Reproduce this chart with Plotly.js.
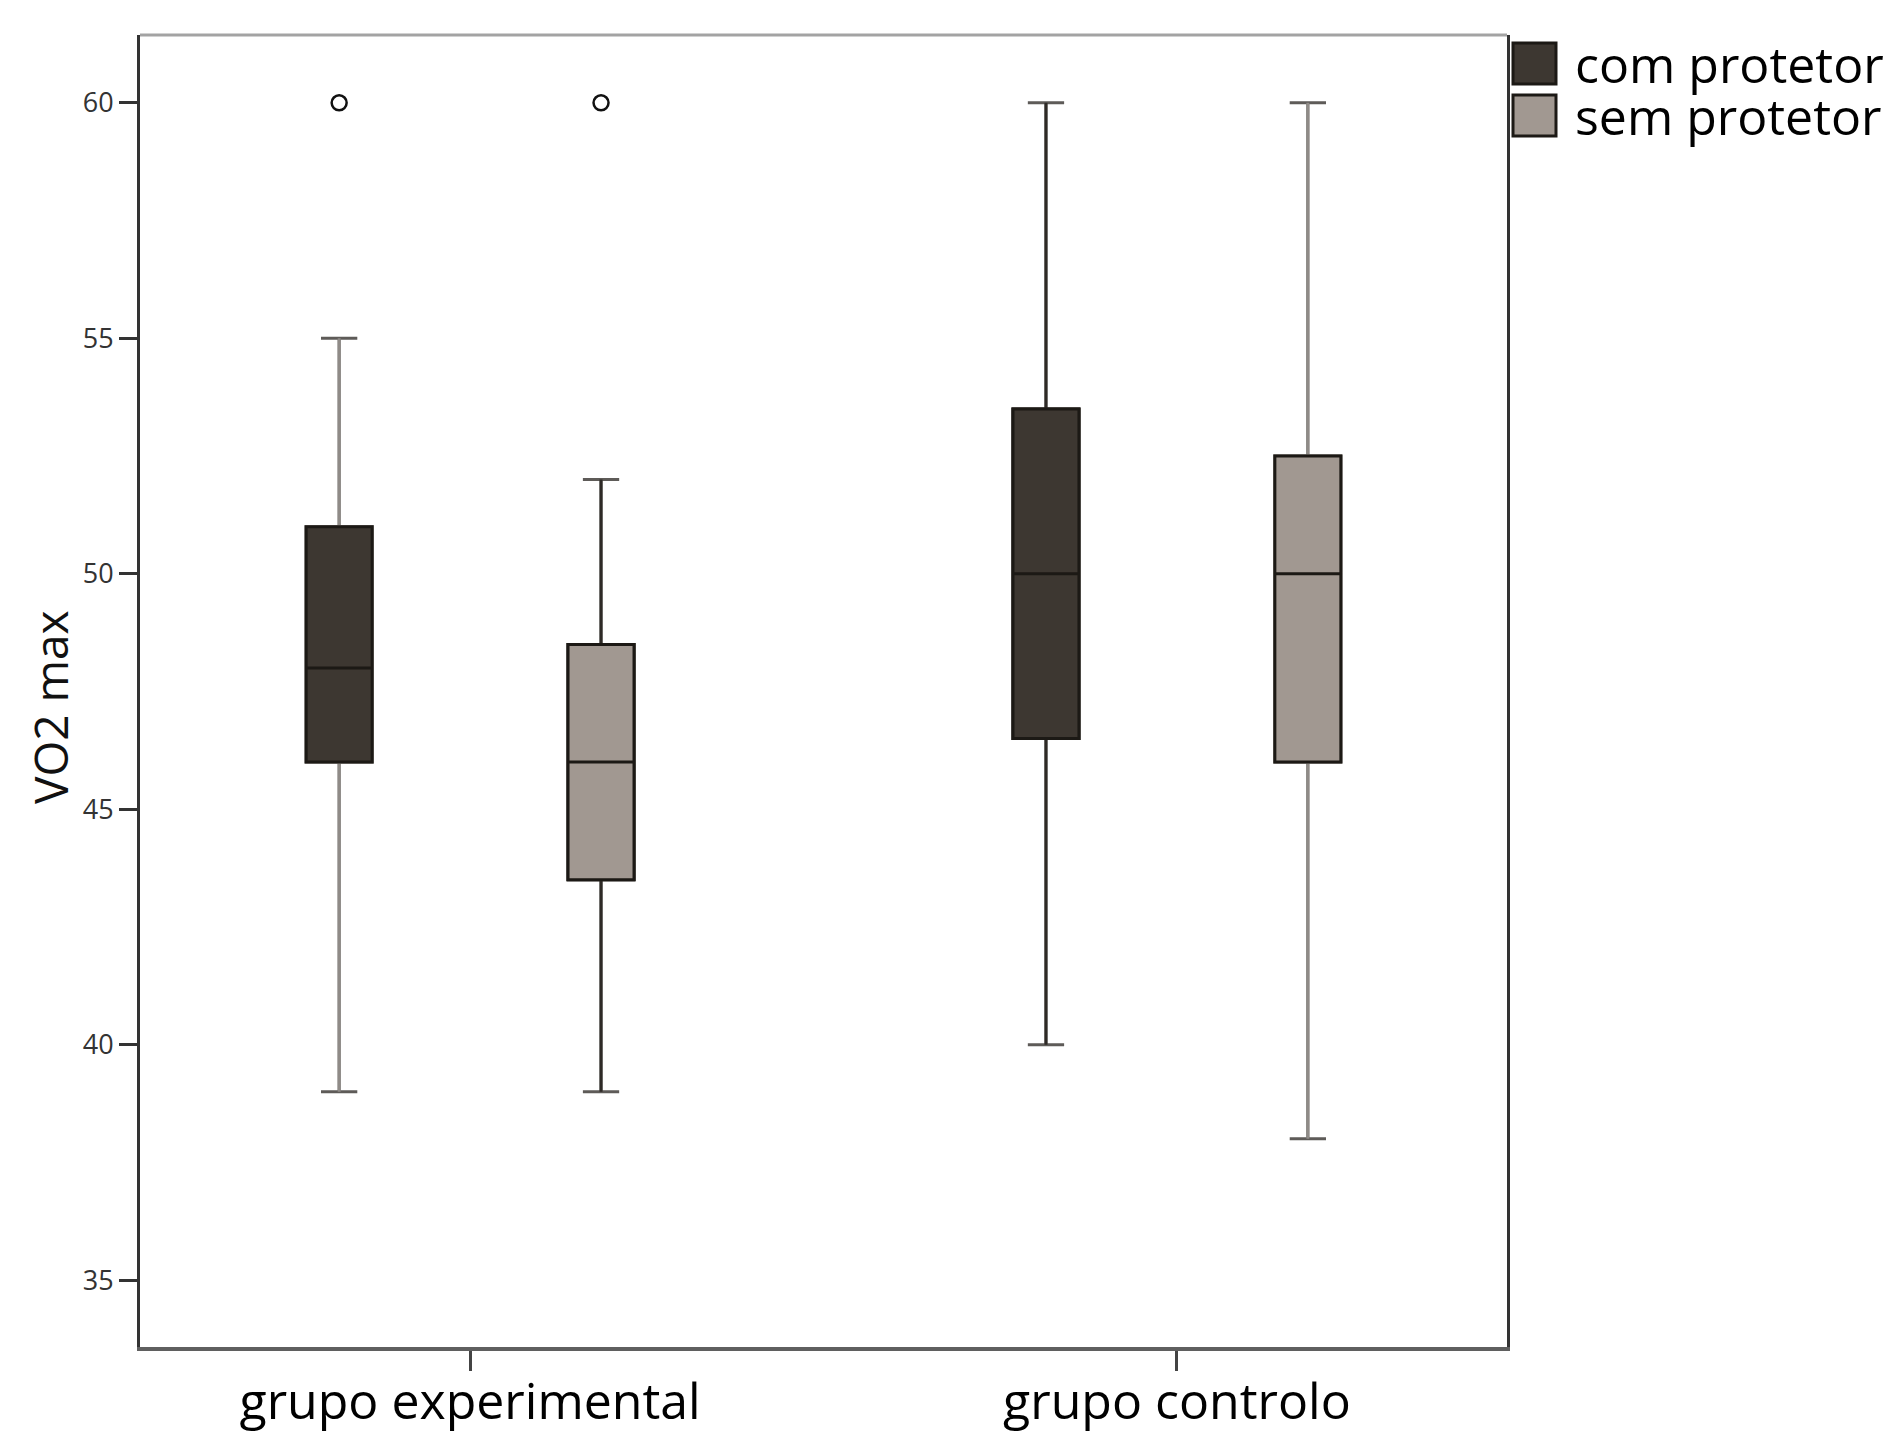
<!DOCTYPE html>
<html>
<head>
<meta charset="utf-8">
<script src="https://cdn.plot.ly/plotly-3.0.1.min.js"></script>
<style>
html, body { margin: 0; padding: 0; background: #ffffff; }
#chart { width: 1888px; height: 1438px; }
</style>
</head>
<body>
<div id="chart"></div>
<script>
// ---- data ----
const categories = ['grupo experimental', 'grupo controlo'];
const seriesNames = ['com protetor', 'sem protetor'];

const comLowerFence = [39, 40];
const comQ1 = [46, 46.5];
const comMedian = [48, 50];
const comQ3 = [51, 53.5];
const comUpperFence = [55, 60];
const comOutliers = [[60], []];

const semLowerFence = [39, 38];
const semQ1 = [43.5, 46];
const semMedian = [46, 50];
const semQ3 = [48.5, 52.5];
const semUpperFence = [52, 60];
const semOutliers = [[60], []];

const yTickValues = [35, 40, 45, 50, 55, 60];
const yAxisTitle = 'VO2 max';

// ---- styles ----
const FONT = 'Open Sans, sans-serif';
const fills = ['#3d3731', '#a19891'];
const outlineColor = '#1c1915';
const capColor = '#5e5b58';
const whiskerColors = [['#8f8b87', '#2e2a26'], ['#2e2a26', '#8f8b87']]; // [series][category]

const series = [
  { name: seriesNames[0], lf: comLowerFence, q1: comQ1, med: comMedian, q3: comQ3, uf: comUpperFence, out: comOutliers },
  { name: seriesNames[1], lf: semLowerFence, q1: semQ1, med: semMedian, q3: semQ3, uf: semUpperFence, out: semOutliers }
];

function boxTrace(s, si, ci, lf, uf, lineColor, ww) {
  return {
    type: 'box', x: [categories[ci]], name: s.name,
    q1: [s.q1[ci]], median: [s.med[ci]], q3: [s.q3[ci]],
    lowerfence: [lf], upperfence: [uf],
    offsetgroup: s.name, alignmentgroup: 'g',
    fillcolor: fills[si], line: { color: lineColor, width: 3 },
    whiskerwidth: ww, boxpoints: false, showlegend: false, hoverinfo: 'skip'
  };
}

const traces = [];
series.forEach((s, si) => {
  categories.forEach((cat, ci) => {
    // whisker caps layer
    traces.push(boxTrace(s, si, ci, s.lf[ci], s.uf[ci], capColor, 0.55));
    // whisker stems layer
    traces.push(boxTrace(s, si, ci, s.lf[ci], s.uf[ci], whiskerColors[si][ci], 0));
    // box layer (dark outline + median)
    traces.push(boxTrace(s, si, ci, s.q1[ci], s.q3[ci], outlineColor, 0));
  });
});

series.forEach((s, si) => {
  const xs = [], ys = [];
  categories.forEach((cat, ci) => s.out[ci].forEach(v => { xs.push(cat); ys.push(v); }));
  traces.push({
    type: 'scatter', mode: 'markers', x: xs, y: ys, name: s.name,
    offsetgroup: s.name, alignmentgroup: 'g', showlegend: false, hoverinfo: 'skip',
    marker: { symbol: 'circle-open', size: 15, color: '#111111', line: { width: 2.5, color: '#111111' } }
  });
});

const shapes = [
  { type: 'line', xref: 'paper', yref: 'paper', x0: 0, x1: 1, y0: 1, y1: 1, line: { color: '#a3a3a3', width: 3 } }
];
const annotations = [
  {
    xref: 'paper', yref: 'paper', x: 0, y: 0.5, xanchor: 'center', yanchor: 'middle',
    xshift: -90, yshift: -16, textangle: -90, text: yAxisTitle, showarrow: false,
    font: { family: FONT, size: 46, color: '#111111' }
  }
];
seriesNames.forEach((nm, si) => {
  shapes.push({
    type: 'rect', xref: 'paper', yref: 'paper', xsizemode: 'pixel', ysizemode: 'pixel',
    xanchor: 1, yanchor: 1, x0: 6, x1: 49, y0: -8 - 52 * si, y1: -49 - 52 * si,
    fillcolor: fills[si], line: { color: outlineColor, width: 3 }
  });
  annotations.push({
    xref: 'paper', yref: 'paper', x: 1, y: 1, xanchor: 'left', yanchor: 'middle',
    xshift: 66, yshift: -29 - 52 * si, text: nm, showarrow: false,
    font: { family: FONT, size: 50, color: '#000000' }
  });
});

const layout = {
  width: 1888, height: 1438,
  paper_bgcolor: '#ffffff', plot_bgcolor: '#ffffff',
  margin: { l: 140, r: 381, t: 35, b: 91, autoexpand: false },
  showlegend: false,
  boxmode: 'group', boxgap: 0.259, boxgroupgap: 0.748,
  scattermode: 'group', scattergap: 0.259,
  font: { family: FONT, color: '#000000' },
  xaxis: {
    type: 'category', categoryorder: 'array', categoryarray: categories,
    range: [-0.467, 1.467],
    showline: true, linecolor: '#5f5f5f', linewidth: 4,
    ticks: 'outside', ticklen: 20, tickwidth: 3, tickcolor: '#444444',
    ticklabelstandoff: -12,
    tickfont: { family: FONT, size: 50, color: '#000000' },
    showgrid: false, zeroline: false, fixedrange: true
  },
  yaxis: {
    range: [33.58, 61.44], tickmode: 'array', tickvals: yTickValues,
    showline: true, linecolor: '#333333', linewidth: 3, mirror: true,
    ticks: 'outside', ticklen: 18, tickwidth: 3, tickcolor: '#333333',
    tickfont: { family: FONT, size: 27, color: '#333333' },
    showgrid: false, zeroline: false, fixedrange: true
  },
  shapes: shapes,
  annotations: annotations
};

Plotly.newPlot('chart', traces, layout, { displayModeBar: false, staticPlot: true });
</script>
</body>
</html>
